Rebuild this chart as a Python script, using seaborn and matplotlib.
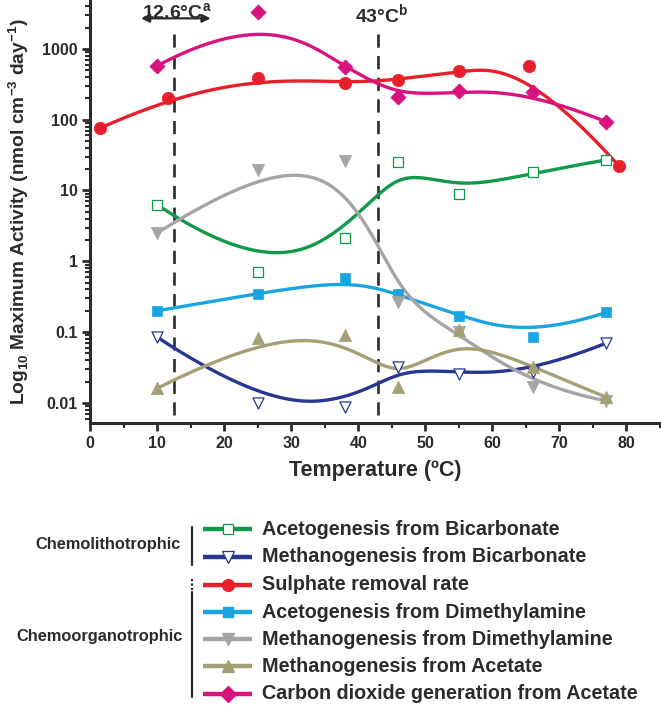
import numpy as np
import pandas as pd
import matplotlib
matplotlib.use("Agg")
import matplotlib.pyplot as plt
import matplotlib.ticker as mticker
from matplotlib.lines import Line2D
import seaborn as sns

sns.set_theme(style="ticks")
plt.rcParams['font.family'] = ['Liberation Sans', 'DejaVu Sans']
plt.rcParams['font.weight'] = 'bold'
plt.rcParams['mathtext.fontset'] = 'custom'
plt.rcParams['mathtext.rm'] = 'Liberation Sans:bold'
plt.rcParams['mathtext.bf'] = 'Liberation Sans:bold'

# ---------------- data ----------------
temp = [10, 25, 38, 46, 55, 66, 77]
sulph_temp = [1.5, 11.7, 25, 38, 46, 55, 65.5, 78.9]

aceto_bicarb = [6.3, 0.71, 2.1, 25, 9.0, 18, 27]
methano_bicarb = [0.085, 0.010, 0.0088, 0.032, 0.026, 0.027, 0.070]
sulphate = [76, 204, 390, 330, 365, 490, 575, 22]
aceto_dma = [0.20, 0.35, 0.58, 0.34, 0.17, 0.086, 0.19]
methano_dma = [2.5, 19.5, 26, 0.27, 0.10, 0.017, 0.0107]
methano_acetate = [0.016, 0.083, 0.092, 0.017, 0.107, 0.032, 0.012]
co2_acetate = [575, 3300, 560, 210, 255, 245, 93]

labels = ["Acetogenesis from Bicarbonate",
          "Methanogenesis from Bicarbonate",
          "Sulphate removal rate",
          "Acetogenesis from Dimethylamine",
          "Methanogenesis from Dimethylamine",
          "Methanogenesis from Acetate",
          "Carbon dioxide generation from Acetate"]
groups = ["Chemolithotrophic", "Chemoorganotrophic"]
thresholds = [12.6, 43]
threshold_labels = [r"12.6°C$^{\mathrm{a}}$", r"43°C$^{\mathrm{b}}$"]

series = [
    (temp, aceto_bicarb, "#0f9a4a", "s", True),
    (temp, methano_bicarb, "#27378f", "v", True),
    (sulph_temp, sulphate, "#e61f2b", "o", False),
    (temp, aceto_dma, "#19a5e0", "s", False),
    (temp, methano_dma, "#a5a5a5", "v", False),
    (temp, methano_acetate, "#a59f76", "^", False),
    (temp, co2_acetate, "#d8127e", "D", False),
]
msize = {"s": 55, "v": 80, "o": 80, "^": 80, "D": 60}


def bspline(xs, ys, n=300, k=3):
    """Clamped cubic B-spline using the data points as control points (log y)."""
    P = np.column_stack([np.asarray(xs, float), np.log10(np.asarray(ys, float))])
    m = len(P)
    knots = np.concatenate([[0] * k, np.arange(m - k + 1), [m - k] * k]).astype(float)
    t = np.linspace(0, m - k, n)
    B = np.zeros((n, len(knots) - 1))
    for i in range(len(knots) - 1):
        B[:, i] = (knots[i] <= t) & (t < knots[i + 1])
    last = np.where(knots[:-1] < knots[1:])[0][-1]
    B[t == knots[-1], last] = 1
    for d in range(1, k + 1):
        Bn = np.zeros((n, len(knots) - 1 - d))
        for i in range(len(knots) - 1 - d):
            den1 = knots[i + d] - knots[i]
            den2 = knots[i + d + 1] - knots[i + 1]
            term = np.zeros(n)
            if den1 > 0:
                term += (t - knots[i]) / den1 * B[:, i]
            if den2 > 0:
                term += (knots[i + d + 1] - t) / den2 * B[:, i + 1]
            Bn[:, i] = term
        B = Bn
    C = B @ P
    return C[:, 0], 10 ** C[:, 1]


W, H = 661, 705
fig = plt.figure(figsize=(W / 100, H / 100), dpi=100)
ax = fig.add_axes([90 / W, 1 - 423 / H, 570 / W, 423 / H])

dark = "#2b2b2b"

# threshold dashed lines
for th in thresholds:
    ax.plot([th, th], [0.0068, 2000], color=dark, lw=1.9, ls=(0, (5, 3.2)), zorder=1)

for xs, ys, col, mk, hollow in series:
    cx, cy = bspline(xs, ys)
    sns.lineplot(x=cx, y=cy, ax=ax, color=col, lw=2.4, sort=False, estimator=None, zorder=2)
for xs, ys, col, mk, hollow in series:
    if hollow:
        sns.scatterplot(x=xs, y=ys, ax=ax, marker=mk, s=msize[mk] * 0.8, facecolor="white",
                        edgecolor=col, linewidth=0.9, zorder=3)
    else:
        sns.scatterplot(x=xs, y=ys, ax=ax, marker=mk, s=msize[mk], color=col,
                        edgecolor=col, linewidth=0.5, zorder=3)

ax.set_yscale("log")
ax.set_xlim(0, 85)
ax.set_ylim(0.0052, 4900)
ax.set_xticks(range(0, 81, 10))
ax.xaxis.set_minor_locator(mticker.MultipleLocator(5))
ax.set_yticks([0.01, 0.1, 1, 10, 100, 1000])
ax.set_yticklabels(["0.01", "0.1", "1", "10", "100", "1000"])
ax.yaxis.set_minor_locator(mticker.LogLocator(base=10, subs=np.arange(2, 10)))
ax.yaxis.set_minor_formatter(mticker.NullFormatter())
ax.tick_params(axis="both", which="major", direction="out", length=6, width=2,
               color=dark, labelsize=11.5, labelcolor=dark, pad=3)
ax.tick_params(axis="both", which="minor", direction="out", length=3.5, width=1.5, color=dark)
for lab in ax.get_xticklabels() + ax.get_yticklabels():
    lab.set_fontweight("bold")
sns.despine(ax=ax)
for sp in ["left", "bottom"]:
    ax.spines[sp].set_linewidth(2.2)
    ax.spines[sp].set_color(dark)

ax.set_xlabel("Temperature (ºC)", fontsize=15.5, fontweight="bold", color=dark, labelpad=7)
ax.set_ylabel(r"Log$_{\mathrm{10}}$ Maximum Activity (nmol cm$^{\mathrm{-3}}$ day$^{\mathrm{-1}}$)",
              fontsize=13.8, fontweight="bold", color=dark, labelpad=8)

# threshold annotations
ax.annotate("", xy=(7.2, 2700), xytext=(18.4, 2700),
            arrowprops=dict(arrowstyle="<|-|>", color=dark, lw=1.6, mutation_scale=12))
ax.text(thresholds[0] + 0.3, 4900 * 0.93, threshold_labels[0], ha="center", va="top",
        fontsize=14, fontweight="bold", color=dark)
ax.text(thresholds[1] + 0.5, 4900 * 0.93, threshold_labels[1], ha="center", va="top",
        fontsize=14, fontweight="bold", color=dark)

# ---------------- custom legend ----------------
lg = fig.add_axes([0, 0, 1, 1])
lg.set_xlim(0, W)
lg.set_ylim(H, 0)
lg.axis("off")
rows_y = [529.3, 557.0, 584.7, 612.0, 639.3, 666.3, 693.5]
for (xs, ys, col, mk, hollow), lab, yy in zip(series, labels, rows_y):
    lg.plot([203, 252], [yy, yy], color=col, lw=3.2, solid_capstyle="butt")
    if hollow:
        lg.plot([227.5], [yy], marker=mk, ms=8.5 if mk != "s" else 7.5, mfc="white",
                mec=col, mew=0.9, ls="none")
    else:
        lg.plot([227.5], [yy], marker=mk, ms=8.5 if mk != "s" else 7.5, mfc=col,
                mec=col, ls="none")
    lg.text(262, yy, lab, fontsize=14.2, fontweight="bold", color=dark, va="center", ha="left")

lg.plot([192, 192], [527, 565], color=dark, lw=1.6)
lg.plot([192, 192], [579, 592], color=dark, lw=1.6, ls=(0, (1, 1)))
lg.plot([192, 192], [592, 697], color=dark, lw=1.6)
lg.text(181, 544, groups[0], fontsize=11.8, fontweight="bold", color=dark, va="center", ha="right")
lg.text(183, 637, groups[1], fontsize=11.8, fontweight="bold", color=dark, va="center", ha="right")

fig.savefig("out.png", dpi=100)
